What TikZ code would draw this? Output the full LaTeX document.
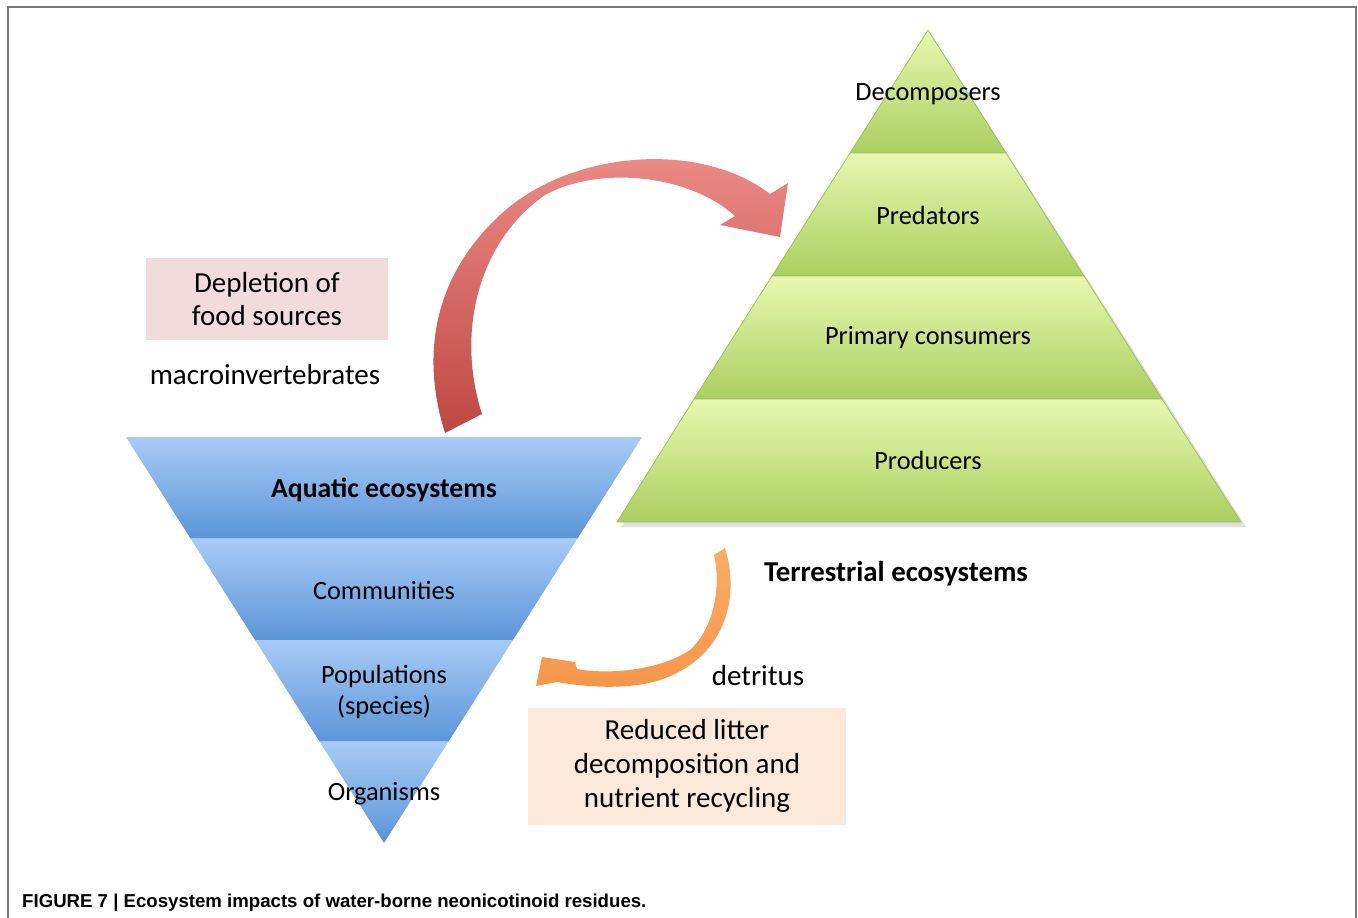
\documentclass[tikz,border=0pt]{standalone}
\usepackage{fontspec}
\setmainfont{Carlito}
\newfontfamily\capfont{Liberation Sans}
\definecolor{bluetop}{HTML}{A9CBF6}
\definecolor{bluebot}{HTML}{5B95D8}
\definecolor{greentop}{HTML}{E7F8B0}
\definecolor{greenbot}{HTML}{ABCF60}
\definecolor{greenline}{HTML}{9BBB59}
\definecolor{redtop}{HTML}{EE8E8A}
\definecolor{redbot}{HTML}{BE4843}
\definecolor{orangetop}{HTML}{F9AE66}
\definecolor{orangebot}{HTML}{F5964A}
\definecolor{pinkbox}{HTML}{F2DCDB}
\definecolor{peachbox}{HTML}{FDE9D9}
\definecolor{framegray}{HTML}{777777}
\begin{document}
\begin{tikzpicture}[
    level/.style={font=\fontsize{15}{17.6}\selectfont, align=center},
    remark/.style={font=\fontsize{16.5}{19.3}\selectfont, align=center},
    bluelayer/.style={top color=bluetop, bottom color=bluebot},
    greenlayer/.style={top color=greentop, bottom color=greenbot, draw=greenline, line width=0.4pt}
  ]
    \useasboundingbox (0,0) rectangle (27.16,-18.36);
    \draw[framegray, line width=1.1pt] (0.16,-18.36) -- (0.16,-0.14) -- (27.12,-0.14) -- (27.12,-18.36);

    \fill[black!12] (12.42,-10.54) -- (18.62,-0.68) -- (24.92,-10.54) -- cycle;
    \shadedraw[greenlayer] (18.56,-0.6) -- (20.12,-3.06) -- (17.00,-3.06) -- cycle;
    \shadedraw[greenlayer] (17.00,-3.06) -- (20.12,-3.06) -- (21.68,-5.52) -- (15.44,-5.52) -- cycle;
    \shadedraw[greenlayer] (15.44,-5.52) -- (21.68,-5.52) -- (23.24,-7.98) -- (13.88,-7.98) -- cycle;
    \shadedraw[greenlayer] (13.88,-7.98) -- (23.24,-7.98) -- (24.82,-10.44) -- (12.34,-10.44) -- cycle;

    \shade[bluelayer] (2.52,-8.74) -- (12.84,-8.74) -- (11.55,-10.77) -- (3.81,-10.77) -- cycle;
    \shade[bluelayer] (3.81,-10.77) -- (11.55,-10.77) -- (10.26,-12.80) -- (5.10,-12.80) -- cycle;
    \shade[bluelayer] (5.10,-12.80) -- (10.26,-12.80) -- (8.97,-14.83) -- (6.39,-14.83) -- cycle;
    \shade[bluelayer] (6.39,-14.83) -- (8.97,-14.83) -- (7.68,-16.86) -- cycle;

    \node[level] (Decomposers) at (18.56,-1.88) {Decomposers};
    \node[level] (Predators) at (18.56,-4.30) {Predators};
    \node[level] (PrimaryConsumers) at (18.56,-6.76) {Primary consumers};
    \node[level] (Producers) at (18.56,-9.20) {Producers};

    \node[level, font=\fontsize{15.8}{18}\selectfont\bfseries] (Aquatic) at (7.68,-9.80) {Aquatic ecosystems};
    \node[level] (Communities) at (7.68,-11.80) {Communities};
    \node[level] (Populations) at (7.68,-13.84) {Populations\\(species)};
    \node[level] (Organisms) at (7.68,-15.88) {Organisms};

    \node[remark, fill=pinkbox, minimum width=4.84cm, minimum height=1.64cm] (Depletion) at (5.34,-5.98) {Depletion of\\food sources};
    \node[remark] (Macro) at (5.30,-7.50) {macroinvertebrates};
    \node[remark, font=\fontsize{16.4}{19}\selectfont\bfseries] (Terrestrial) at (17.92,-11.48) {Terrestrial ecosystems};
    \node[remark] (Detritus) at (15.16,-13.52) {detritus};
    \node[remark, fill=peachbox, minimum width=6.36cm, minimum height=2.34cm] (Litter) at (13.74,-15.32) {Reduced litter\\decomposition and\\nutrient recycling};

    \coordinate (RedTail) at (8.90,-8.66);
    \coordinate (RedTip) at (15.60,-4.74);
    \shade[top color=redtop, bottom color=redbot] (RedTail) .. controls (8.44,-7.20) and (8.60,-5.60) .. (10.00,-4.30) .. controls (11.40,-3.00) and (14.00,-2.80) .. (15.40,-3.88) -- (15.76,-3.66) -- (RedTip) -- (14.40,-4.50) -- (14.70,-4.32) .. controls (13.80,-3.50) and (12.00,-3.30) .. (10.90,-3.90) .. controls (9.60,-4.80) and (9.10,-6.60) .. (9.64,-8.28) -- cycle;

    \coordinate (OrangeTail) at (14.50,-10.96);
    \coordinate (OrangeTip) at (10.84,-13.14);
    \shade[top color=orangetop, bottom color=orangebot] (14.28,-11.10) -- (OrangeTail) .. controls (14.82,-12.00) and (14.48,-13.20) .. (13.14,-13.62) .. controls (12.50,-13.80) and (11.70,-13.74) .. (11.14,-13.64) -- (10.72,-13.72) -- (OrangeTip) -- (11.50,-13.24) -- (11.54,-13.38) .. controls (12.20,-13.50) and (13.20,-13.40) .. (13.80,-13.00) .. controls (14.24,-12.60) and (14.44,-11.80) .. (14.28,-11.10) -- cycle;

    \node[anchor=base west, font=\capfont\bfseries\fontsize{10.6}{12}\selectfont] (Caption) at (0.32,-18.14) {FIGURE 7 | Ecosystem impacts of water-borne neonicotinoid residues.};
\end{tikzpicture}
\end{document}
